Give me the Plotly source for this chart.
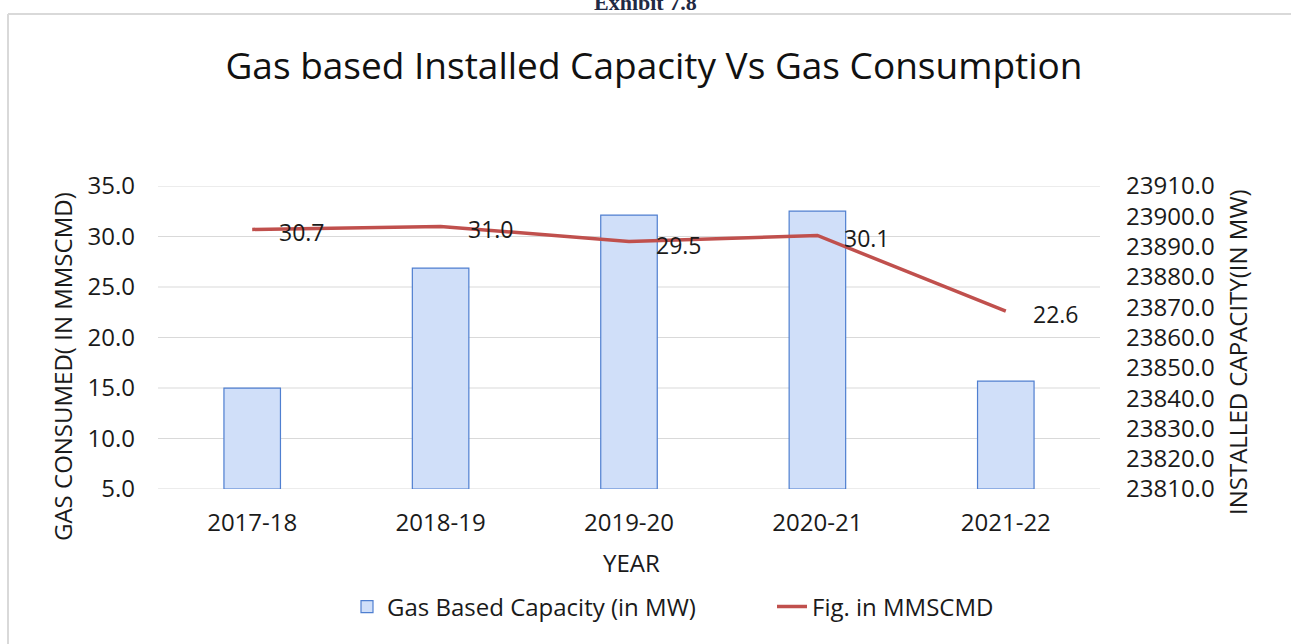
import plotly.graph_objects as go

years = ["2017-18", "2018-19", "2019-20", "2020-21", "2021-22"]
capacity_mw = [23843.3, 23882.9, 23900.4, 23901.7, 23845.6]
gas_mmscmd = [30.7, 31.0, 29.5, 30.1, 22.6]
left_ticks = [5, 10, 15, 20, 25, 30, 35]
right_ticks = [23810, 23820, 23830, 23840, 23850, 23860, 23870, 23880, 23890, 23900, 23910]

W, H = 1291, 644
L, R, T, B = 158, 191, 186, 155
pw, ph = W - L - R, H - T - B

def px(x):
    return (x - L) / pw

def py(y):
    return (H - B - y) / ph

FONT = "Open Sans"
TXT = "#1a1a1a"
FS = 24

fig = go.Figure()
fig.add_trace(go.Bar(
    x=years, y=[c - right_ticks[0] for c in capacity_mw], base=right_ticks[0],
    yaxis="y", name="Gas Based Capacity (in MW)",
    marker=dict(color="#d0dff9", line=dict(color="#4f7fd0", width=1.2)),
    width=0.3,
))
fig.add_trace(go.Scatter(
    x=years, y=gas_mmscmd, mode="lines", name="Fig. in MMSCMD",
    yaxis="y2",
    line=dict(color="#c0504d", width=3.5),
))

shapes = [
    dict(type="line", xref="paper", yref="y2", x0=0, x1=1, y0=v, y1=v,
         line=dict(color="#d9d9d9", width=1), layer="below")
    for v in left_ticks
]
shapes += [
    dict(type="line", xref="paper", yref="paper", x0=px(8), x1=px(W), y0=py(14), y1=py(14),
         line=dict(color="#d9d9d9", width=2)),
    dict(type="line", xref="paper", yref="paper", x0=px(8), x1=px(8), y0=py(14), y1=py(H),
         line=dict(color="#d9d9d9", width=2)),
]

labels = [
    dict(text=f"{v:.1f}", xref="x", yref="y2", x=yr, y=v,
         xanchor="left", yanchor="middle", xshift=25, yshift=-3, showarrow=False,
         font=dict(family=FONT, size=23, color=TXT))
    for yr, v in zip(years, gas_mmscmd)
]

fig.update_layout(
    width=W, height=H,
    margin=dict(l=L, r=R, t=T, b=B, autoexpand=False),
    paper_bgcolor="white", plot_bgcolor="white",
    font=dict(family=FONT, color=TXT),
    title=dict(text="Gas based Installed Capacity Vs Gas Consumption",
               x=px(654), xref="paper", xanchor="center",
               y=1 - 66 / H, yanchor="middle",
               font=dict(family=FONT, size=37, color="#111111")),
    xaxis=dict(showgrid=False, tickfont=dict(size=FS, color=TXT),
               showline=False, ticks="", automargin=False, ticklabelstandoff=17),
    yaxis=dict(range=[right_ticks[0], right_ticks[-1]], tickvals=right_ticks, tickformat=".1f",
               side="right", showgrid=False, zeroline=False,
               tickfont=dict(size=FS, color=TXT),
               ticks="", ticklabelstandoff=25, automargin=False),
    yaxis2=dict(range=[left_ticks[0], left_ticks[-1]], tickvals=left_ticks, tickformat=".1f",
                overlaying="y", side="left", showgrid=False, zeroline=False,
                tickfont=dict(size=FS, color=TXT),
                ticks="", ticklabelstandoff=22, automargin=False),
    legend=dict(orientation="h", x=px(347), xanchor="left", y=py(607), yanchor="middle",
                font=dict(size=FS, color=TXT), traceorder="normal",
                entrywidth=380, entrywidthmode="pixels"),
    showlegend=True,
    shapes=shapes,
    annotations=labels + [
        dict(text="<b>Exhibit 7.8</b>", xref="paper", yref="paper", x=px(645), y=py(2),
             xanchor="center", yanchor="middle", showarrow=False,
             font=dict(family="Liberation Serif", size=22, color="#1f2a44")),
        dict(text="YEAR", xref="paper", yref="paper", x=px(631), y=py(562),
             xanchor="center", yanchor="middle", showarrow=False,
             font=dict(family=FONT, size=FS, color=TXT)),
        dict(text="GAS CONSUMED( IN MMSCMD)", xref="paper", yref="paper", x=px(62), y=py(367),
             xanchor="center", yanchor="middle", showarrow=False, textangle=-90,
             font=dict(family=FONT, size=FS, color=TXT)),
        dict(text="INSTALLED CAPACITY(IN MW)", xref="paper", yref="paper", x=px(1237), y=py(352),
             xanchor="center", yanchor="middle", showarrow=False, textangle=-90,
             font=dict(family=FONT, size=FS, color=TXT)),
    ],
)

fig.write_html("out.html", config={"displayModeBar": False},
               post_script="document.body.style.margin='0';document.body.style.overflow='hidden';")
